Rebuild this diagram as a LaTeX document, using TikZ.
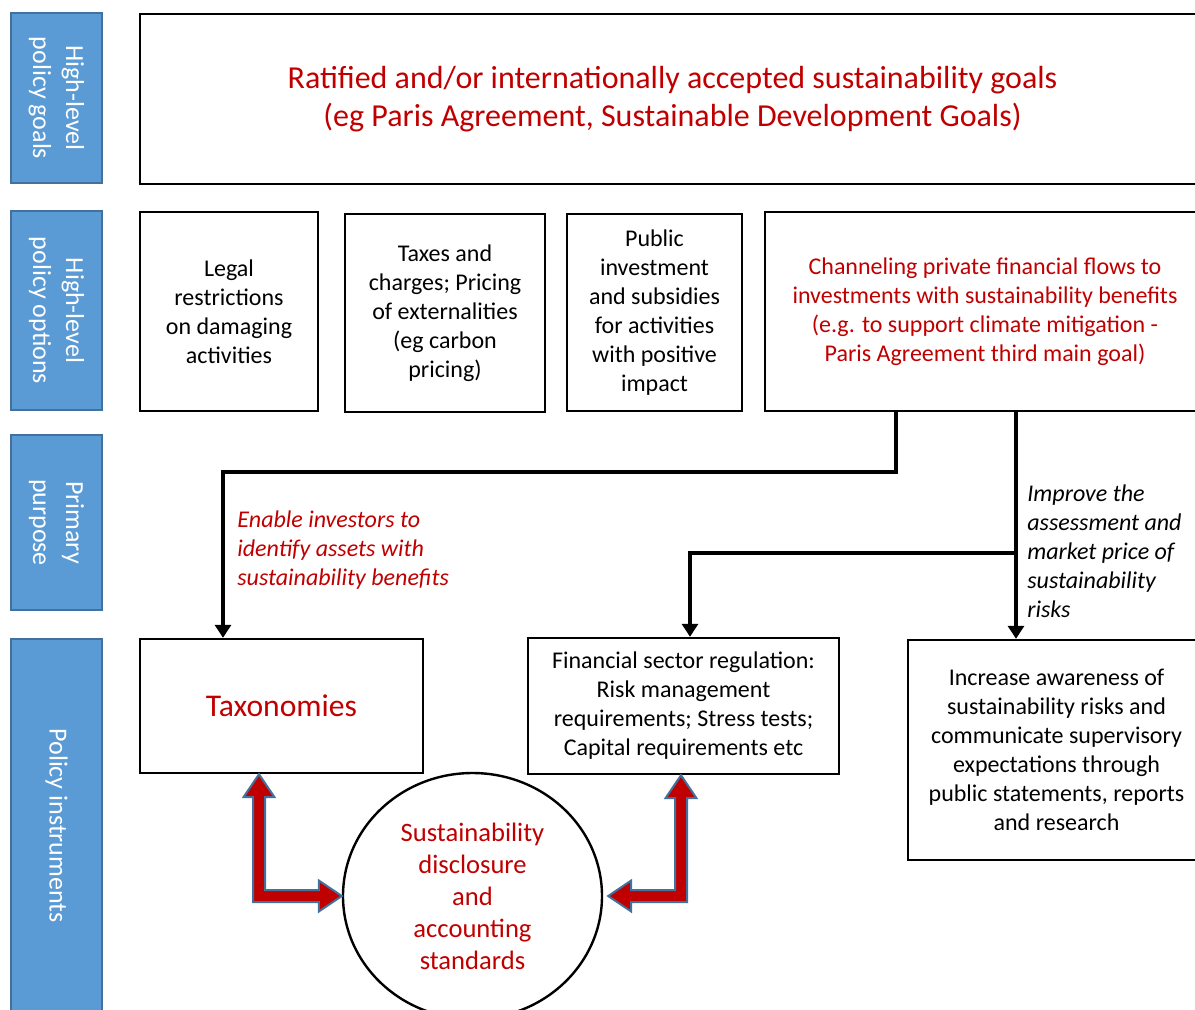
\documentclass[tikz,border=0pt]{standalone}
\usepackage{fontspec}
\setmainfont{Carlito}
\usetikzlibrary{calc,arrows.meta,shapes.geometric}
\definecolor{barblue}{HTML}{5B9BD5}
\definecolor{barline}{HTML}{41719C}
\definecolor{goalred}{HTML}{C00000}
\tikzset{%
  side bar/.style={draw=barline, line width=1pt, fill=barblue, text=white,
    rotate=-90, align=center, inner sep=0pt,
    font=\fontsize{13}{16.5}\selectfont},
  policy box/.style={draw, line width=1.2pt, align=center, inner sep=0pt,
    font=\fontsize{12}{14.5}\selectfont},
  red text/.style={text=goalred},
  flow/.style={line width=1.6pt, -{Triangle[length=6.5pt,width=8pt]}},
  flow note/.style={anchor=west, align=left, inner sep=0pt,
    font=\fontsize{12}{14.5}\selectfont\itshape},
  block arrow/.style={draw=barline, line width=1pt, fill=goalred, line join=miter},
}
\newcommand{\DataFlow}{
  \coordinate (forkA) at (896,472);% left branch bend
  \coordinate (forkB) at (1016,553);% right branch split
  \coordinate (taxin) at (223,0 |- tax.north);% arrow into taxonomies
  \coordinate (finin) at (690,0 |- finreg.north);% arrow into regulation
  \coordinate (lt) at (259,0 |- tax.south);% tip of left block arrow
  \coordinate (lc) at (259,896);% corner of left block arrow
  \coordinate (rt) at (disc.west);% tip at the circle
  \coordinate (mt) at (681,0 |- finreg.south);% tip of right block arrow
  \coordinate (mc) at (681,896);% corner of right block arrow
  \coordinate (ms) at ($(disc.east)+(5,0)$);% tip near the circle
}

\begin{document}
\begin{tikzpicture}[x=0.5pt,y=-0.5pt]
  \clip (0,0) rectangle (1195,1009);
  % row labels
  \node [side bar, minimum width=85pt, minimum height=45.5pt] (rowgoals) at (56.5,98) {High-level\\policy goals};
  \node [side bar, minimum width=99.5pt, minimum height=45.5pt] (rowoptions) at (56.5,310.5) {High-level\\policy options};
  \node [side bar, minimum width=87.5pt, minimum height=45.5pt] (rowpurpose) at (56.5,522.5) {Primary\\purpose};
  \node [side bar, minimum width=186.5pt, minimum height=45.5pt] (rowinstr) at (56.5,825.5) {Policy instruments};
  % goals and options
  \node [policy box, red text, minimum width=532.5pt, minimum height=85pt,
    font=\fontsize{16}{19}\selectfont] (goals) at (672.5,99)
    {Ratified and/or internationally accepted sustainability goals\\(eg Paris Agreement, Sustainable Development Goals)};
  \node [policy box, minimum width=89pt, minimum height=99.5pt] (legal) at (229,311.5)
    {Legal\\restrictions\\on damaging\\activities};
  \node [policy box, minimum width=100pt, minimum height=99pt] (taxes) at (445,313)
    {Taxes and\\charges; Pricing\\of externalities\\(eg carbon\\pricing)};
  \node [policy box, minimum width=87.5pt, minimum height=98.5pt] (public) at (654.5,312.5)
    {Public\\investment\\and subsidies\\for activities\\with positive\\impact};
  \node [policy box, red text, minimum width=220pt, minimum height=99.5pt] (channel) at (985,311.5)
    {Channeling private financial flows to\\investments with sustainability benefits\\(e.g. to support climate mitigation -\\Paris Agreement third main goal)};
  % instruments
  \node [policy box, red text, minimum width=141.5pt, minimum height=67pt,
    font=\fontsize{15.8}{18}\selectfont] (tax) at (281.5,706) {Taxonomies};
  \node [policy box, minimum width=155.5pt, minimum height=68pt] (finreg) at (683.5,706)
    {Financial sector regulation:\\Risk management\\requirements; Stress tests;\\Capital requirements etc};
  \node [policy box, minimum width=148.5pt, minimum height=110pt] (aware) at (1056.5,750)
    {Increase awareness of\\sustainability risks and\\communicate supervisory\\expectations through\\public statements, reports\\and research};
  \node [policy box, red text, ellipse, minimum width=129.5pt, minimum height=123pt,
    font=\fontsize{13.3}{16}\selectfont] (disc) at (472.5,896)
    {Sustainability\\disclosure\\and\\accounting\\standards};
  \DataFlow% makes coordinates available
  % connectors
  \draw [flow] (channel.south -| forkA) -- (forkA) -| (taxin);
  \draw [flow] (channel.south -| forkB) -- (aware.north -| forkB);
  \draw [flow] (forkB) -| (finin);
  \node [flow note, red text] (notetax) at (237,550)
    {Enable investors to\\identify assets with\\sustainability benefits};
  \node [flow note] (noterisk) at (1027,551)
    {Improve the\\assessment and\\market price of\\sustainability\\risks};
  % block arrows
  \draw [block arrow] (lt) -- ++(15.5,23) -- ++(-9.5,0) -- ($(lc)+(6,-6)$)
    -- ($(rt)+(-23,-6)$) -- ++(0,-9.5) -- (rt) -- ++(-23,15.5) -- ++(0,-9.5)
    -- ($(lc)+(-6,6)$) -- ($(lt)+(-6,23)$) -- ++(-9.5,0) -- cycle;
  \draw [block arrow] (mt) -- ++(15.5,23) -- ++(-9.5,0) -- ($(mc)+(6,6)$)
    -- ($(ms)+(23,6)$) -- ++(0,9.5) -- (ms) -- ++(23,-15.5) -- ++(0,9.5)
    -- ($(mc)+(-6,-6)$) -- ($(mt)+(-6,23)$) -- ++(-9.5,0) -- cycle;
\end{tikzpicture}
\end{document}
